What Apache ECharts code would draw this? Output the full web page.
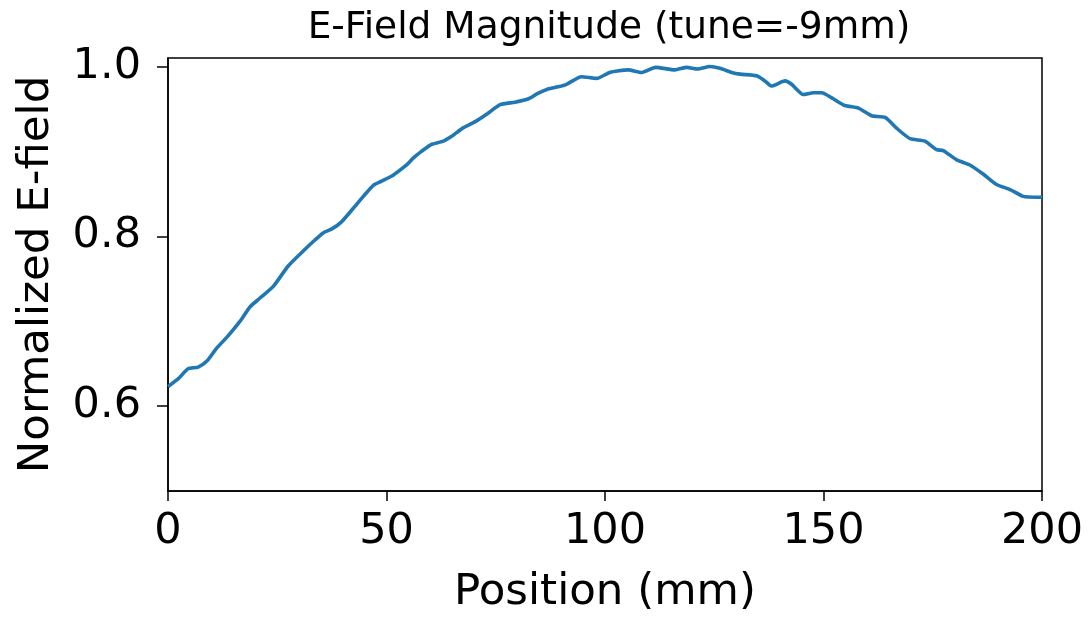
<!DOCTYPE html>
<html>
<head>
<meta charset="utf-8">
<title>E-Field Magnitude</title>
<script src="https://cdn.jsdelivr.net/npm/echarts@6/dist/echarts.min.js"></script>
<style>
  html, body { margin: 0; padding: 0; background: #ffffff; }
  #chart { width: 1089px; height: 620px; }
</style>
</head>
<body>
<div id="chart"></div>
<script>
// Position along the structure (mm)
const positions = [
  0, 2.5, 4.6, 6.9, 8.9, 11.1, 13.8, 16.5, 18.8, 21, 24.1, 27.5, 31, 33.5,
  35.5, 37.6, 39.7, 42.4, 44.7, 47, 48.9, 51.5, 54.6, 56.1, 58, 60.2, 63, 65,
  67.6, 70.3, 73, 76, 79.4, 82.5, 84.5, 86.7, 89.3, 91.2, 94.6, 98.1, 101.1,
  105.3, 108.4, 111.6, 116, 118.7, 121.2, 124, 126.3, 129, 130.9, 134.7, 136.6,
  138.1, 141.2, 142.7, 145.4, 147.7, 149.6, 151.9, 154.9, 158, 161, 164.1,
  166.8, 169.8, 173.2, 175.9, 177.4, 180.5, 183.5, 186.6, 189.6, 192.7, 195.7,
  199, 200
];

// Normalized E-field magnitude at each position
const fieldValues = [
  0.623, 0.633, 0.644, 0.646, 0.653, 0.668, 0.683, 0.700, 0.717, 0.727, 0.741,
  0.765, 0.783, 0.795, 0.804, 0.809, 0.817, 0.833, 0.847, 0.860, 0.865, 0.872,
  0.884, 0.892, 0.900, 0.908, 0.912, 0.918, 0.928, 0.935, 0.944, 0.955, 0.958,
  0.962, 0.968, 0.973, 0.976, 0.979, 0.988, 0.986, 0.993, 0.996, 0.993, 0.999,
  0.996, 0.999, 0.997, 1.000, 0.998, 0.993, 0.991, 0.989, 0.983, 0.977, 0.983,
  0.979, 0.967, 0.969, 0.969, 0.963, 0.954, 0.951, 0.942, 0.940, 0.927, 0.915,
  0.912, 0.902, 0.901, 0.890, 0.884, 0.873, 0.861, 0.855, 0.847, 0.846, 0.846
];

const xTicks = [0, 50, 100, 150, 200];
const yTicks = [0.6, 0.8, 1.0];

const titleText = 'E-Field Magnitude (tune=-9mm)';
const xLabel = 'Position (mm)';
const yLabel = 'Normalized E-field';

const FONT = '"DejaVu Sans", "Liberation Sans", sans-serif';

const chart = echarts.init(document.getElementById('chart'), null, { renderer: 'canvas' });

const option = {
  animation: false,
  backgroundColor: '#ffffff',
  title: {
    text: titleText,
    left: 604,
    textAlign: 'center',
    top: 4,
    textStyle: { fontFamily: FONT, fontSize: 37.5, fontWeight: 'normal', color: '#000' }
  },
  grid: {
    left: 168, right: 47, top: 58, bottom: 126,
    show: true,
    borderColor: '#000',
    borderWidth: 1.5,
    backgroundColor: 'transparent'
  },
  xAxis: {
    type: 'value',
    min: 0,
    max: 200,
    interval: 50,
    name: xLabel,
    nameLocation: 'middle',
    nameGap: 80,
    nameTextStyle: { fontFamily: FONT, fontSize: 43.5, color: '#000' },
    axisLine: { show: true, onZero: false, lineStyle: { color: '#000', width: 1.5 } },
    axisTick: { show: true, length: 10, inside: false, customValues: xTicks, lineStyle: { color: '#000', width: 1.5 } },
    axisLabel: { show: true, margin: 19, customValues: xTicks, fontFamily: FONT, fontSize: 43, color: '#000' },
    splitLine: { show: false }
  },
  yAxis: {
    type: 'value',
    min: 0.5,
    max: 1.01,
    interval: 0.1,
    name: yLabel,
    nameLocation: 'middle',
    nameGap: 109,
    nameTextStyle: { fontFamily: FONT, fontSize: 43.5, color: '#000' },
    axisLine: { show: true, onZero: false, lineStyle: { color: '#000', width: 1.5 } },
    axisTick: { show: true, length: 11, inside: false, customValues: yTicks, lineStyle: { color: '#000', width: 1.5 } },
    axisLabel: {
      show: true, margin: 27, customValues: yTicks,
      fontFamily: FONT, fontSize: 43, color: '#000',
      formatter: v => Number(v).toFixed(1)
    },
    splitLine: { show: false }
  },
  series: [{
    type: 'line',
    data: positions.map((p, i) => [p, fieldValues[i]]),
    showSymbol: false,
    smooth: 0.2,
    clip: true,
    lineStyle: { color: '#1f77b4', width: 3.6 },
    itemStyle: { color: '#1f77b4' }
  }]
};

chart.setOption(option);
</script>
</body>
</html>
